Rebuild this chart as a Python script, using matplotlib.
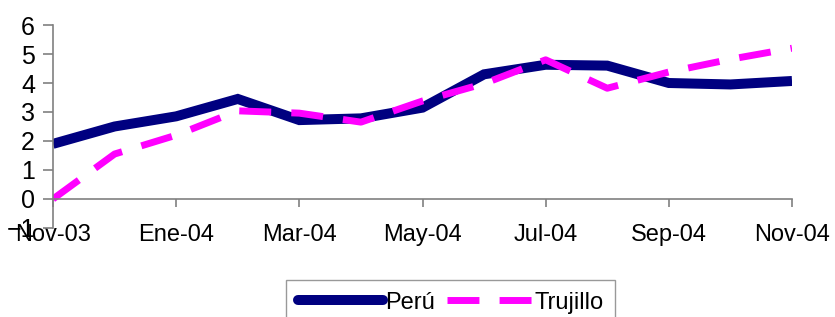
import matplotlib.pyplot as plt

plt.rcParams["font.family"] = ["Liberation Sans", "DejaVu Sans"]

months = ["Nov-03", "Dic-03", "Ene-04", "Feb-04", "Mar-04", "Abr-04", "May-04",
          "Jun-04", "Jul-04", "Ago-04", "Sep-04", "Oct-04", "Nov-04"]
peru = [1.9, 2.5, 2.85, 3.45, 2.72, 2.78, 3.15, 4.3, 4.63, 4.6, 4.0, 3.95, 4.07]
trujillo = [0.0, 1.55, 2.2, 3.04, 2.96, 2.65, 3.38, 3.98, 4.8, 3.82, 4.38, 4.82, 5.2]

fig = plt.figure(figsize=(8.35, 3.17), dpi=100)
ax = fig.add_axes([0.0635, 0.281, 0.885, 0.64])

x = list(range(len(months)))
ax.plot(x, peru, color="#000080", linewidth=7.2, solid_capstyle="butt",
        solid_joinstyle="miter", label="Perú")
ax.plot(x, trujillo, color="#FF00FF", linewidth=5, dashes=(4.6, 2.9),
        label="Trujillo")

ax.set_xlim(0, 12)
ax.set_ylim(-1, 6)
ax.set_yticks(range(-1, 7))
ax.set_xticks(x[::2])
ax.set_xticklabels(months[::2])

for s in ["top", "right"]:
    ax.spines[s].set_visible(False)
ax.spines["bottom"].set_position(("data", 0))
ax.spines["bottom"].set_color("#808080")
ax.spines["left"].set_color("#808080")
ax.spines["bottom"].set_linewidth(1.2)
ax.spines["left"].set_linewidth(1.2)

ax.tick_params(axis="x", direction="out", length=6, width=1.2, color="#808080",
               pad=12, labelsize=17)
ax.tick_params(axis="y", direction="out", length=7, width=1.2, color="#808080",
               pad=6, labelsize=18)

leg = ax.legend(loc="upper center", bbox_to_anchor=(0.54, 0.117),
                bbox_transform=fig.transFigure, ncol=2, fontsize=17,
                frameon=True, fancybox=False, edgecolor="#808080",
                handlelength=3.6, handletextpad=0.1, columnspacing=0.5,
                borderpad=0.5, borderaxespad=0)
leg.get_frame().set_linewidth(1.0)
leg.legend_handles[0].set_solid_capstyle("round")

fig.savefig("out.png", dpi=100, facecolor="white")
